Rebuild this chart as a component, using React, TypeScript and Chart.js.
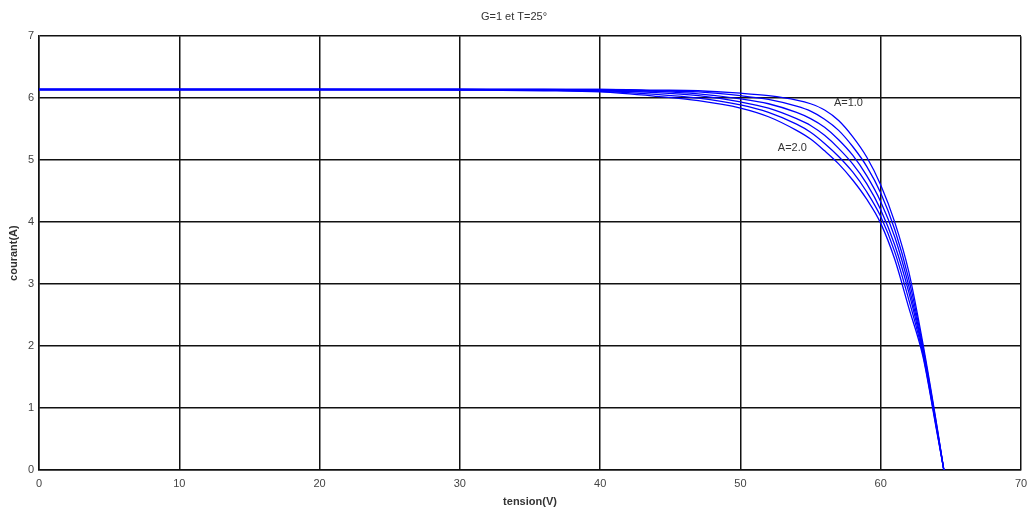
import React, { useEffect, useRef } from "react";
import { Chart, registerables } from "chart.js";

Chart.register(...registerables);

const chartTitle = "G=1 et T=25°";
const xAxisTitle = "tension(V)";
const yAxisTitle = "courant(A)";

const voltages = [0, 10, 20, 30, 36, 40, 44, 47, 50, 52, 54, 55, 56, 57, 58, 59, 60, 61, 62, 63, 64, 64.5];

const currentA10 = [6.14, 6.14, 6.14, 6.14, 6.14, 6.14, 6.13, 6.12, 6.08, 6.04, 5.97, 5.91, 5.81, 5.64, 5.38, 5.05, 4.60, 4.00, 3.20, 2.05, 0.72, 0];
const currentA12 = [6.14, 6.14, 6.14, 6.14, 6.14, 6.14, 6.12, 6.10, 6.04, 5.98, 5.87, 5.79, 5.66, 5.48, 5.22, 4.90, 4.47, 3.88, 3.08, 2.00, 0.70, 0];
const currentA14 = [6.14, 6.14, 6.14, 6.14, 6.14, 6.13, 6.11, 6.07, 5.99, 5.91, 5.77, 5.67, 5.53, 5.33, 5.08, 4.75, 4.33, 3.76, 2.97, 1.96, 0.68, 0];
const currentA16 = [6.14, 6.14, 6.14, 6.14, 6.13, 6.12, 6.09, 6.04, 5.94, 5.84, 5.67, 5.56, 5.40, 5.19, 4.94, 4.62, 4.20, 3.63, 2.87, 1.92, 0.66, 0];
const currentA18 = [6.14, 6.14, 6.14, 6.14, 6.13, 6.11, 6.06, 6.00, 5.89, 5.77, 5.58, 5.45, 5.27, 5.06, 4.81, 4.49, 4.09, 3.52, 2.75, 1.88, 0.64, 0];
const currentA20 = [6.14, 6.14, 6.14, 6.13, 6.12, 6.10, 6.03, 5.96, 5.84, 5.70, 5.48, 5.34, 5.15, 4.94, 4.68, 4.37, 3.98, 3.40, 2.62, 1.84, 0.62, 0];

const seriesNames = ["A=1.0", "A=1.2", "A=1.4", "A=1.6", "A=1.8", "A=2.0"];
const seriesValues = [currentA10, currentA12, currentA14, currentA16, currentA18, currentA20];

const curveLabels = ["A=1.0", "A=2.0"];
const curveLabelX = [57.7, 53.7];
const curveLabelY = [5.92, 5.19];

const xTicks = [0, 10, 20, 30, 40, 50, 60, 70];
const yTicks = [0, 1, 2, 3, 4, 5, 6, 7];

const labelPlugin = {
  id: "curveLabels",
  afterDatasetsDraw(chart: any) {
    const { ctx, scales } = chart;
    ctx.save();
    ctx.font = "11px 'Liberation Sans', Arial, sans-serif";
    ctx.fillStyle = "#333";
    ctx.textAlign = "center";
    ctx.textBaseline = "middle";
    curveLabels.forEach((t, i) => {
      ctx.fillText(t, scales.x.getPixelForValue(curveLabelX[i]), scales.y.getPixelForValue(curveLabelY[i]));
    });
    ctx.restore();
  },
};

export default function App() {
  const ref = useRef<HTMLCanvasElement>(null);
  useEffect(() => {
    document.body.style.margin = "0";
    const canvas = ref.current;
    if (!canvas) return;
    const font = { family: "'Liberation Sans', Arial, sans-serif", size: 11 };
    const chart = new Chart(canvas, {
      type: "line",
      data: {
        datasets: seriesValues.map((vals, k) => ({
          label: seriesNames[k],
          data: voltages.map((v, i) => ({ x: v, y: vals[i] })),
          borderColor: "#0000ff",
          backgroundColor: "#0000ff",
          borderWidth: 1.3,
          pointRadius: 0,
          cubicInterpolationMode: "monotone" as const,
          fill: false,
        })),
      },
      options: {
        animation: false,
        responsive: false,
        maintainAspectRatio: false,
        layout: { padding: { left: 0, right: 0, top: 0, bottom: 0 } },
        plugins: {
          legend: { display: false },
          tooltip: { enabled: false },
          title: {
            display: true,
            text: chartTitle,
            color: "#333",
            font: { ...font, weight: "normal" as const },
            padding: { top: 10, bottom: 13 },
          },
        },
        scales: {
          x: {
            type: "linear",
            min: 0,
            max: 70,
            afterBuildTicks: (s: any) => {
              s.ticks = xTicks.map((v) => ({ value: v }));
            },
            afterFit: (s: any) => {
              s.height = 42;
              s.paddingRight = 7;
              s.paddingLeft = 0;
            },
            grid: { color: "#111", lineWidth: 1.5, drawTicks: false },
            border: { color: "#111", width: 1.5 },
            ticks: { color: "#444", font, padding: 7 },
            title: { display: true, text: xAxisTitle, color: "#333", font: { ...font, weight: "bold" as const }, padding: { top: 0, bottom: 3 } },
          },
          y: {
            type: "linear",
            min: 0,
            max: 7,
            afterBuildTicks: (s: any) => {
              s.ticks = yTicks.map((v) => ({ value: v }));
            },
            afterFit: (s: any) => {
              s.width = 39;
            },
            grid: { color: "#111", lineWidth: 1.5, drawTicks: false },
            border: { color: "#111", width: 1.5 },
            ticks: { color: "#444", font, padding: 5 },
            title: { display: true, text: yAxisTitle, color: "#333", font: { ...font, weight: "bold" as const }, padding: { top: 7, bottom: 0 } },
          },
        },
      },
      plugins: [labelPlugin],
    });
    return () => chart.destroy();
  }, []);
  return (
    <div style={{ position: "fixed", left: 0, top: 0, width: 1028, height: 512, background: "#fff" }}>
      <canvas ref={ref} width={1028} height={512} style={{ width: 1028, height: 512 }} />
    </div>
  );
}
